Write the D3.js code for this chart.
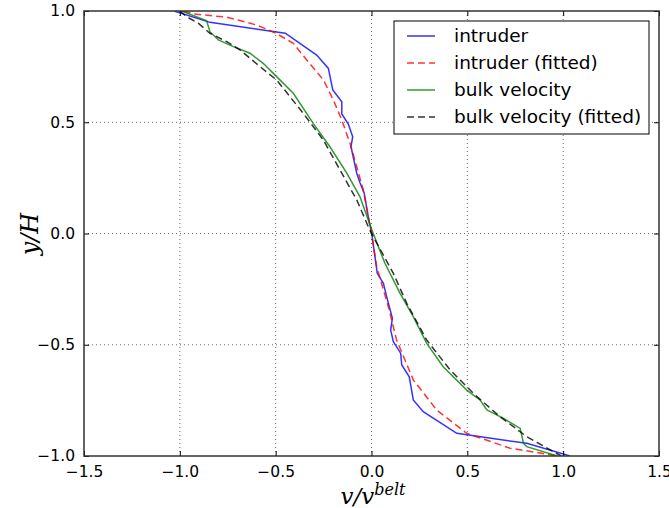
<!DOCTYPE html>
<html><head><meta charset="utf-8">
<script src="https://cdn.jsdelivr.net/npm/d3@7"></script>
<style>body{margin:0;background:#fff;} svg{display:block;}</style>
</head><body>
<svg id="c" width="669" height="508"></svg>
<script>
// ---- data (x = v/v_belt, y = y/H) ----
const seriesNames = ["intruder", "intruder (fitted)", "bulk velocity", "bulk velocity (fitted)"];
const xTicks = [-1.5, -1.0, -0.5, 0.0, 0.5, 1.0, 1.5];
const yTicks = [-1.0, -0.5, 0.0, 0.5, 1.0];

const intruderX = [-1.03,-0.843,-0.450,-0.286,-0.225,-0.202,-0.155,-0.155,-0.121,-0.098,-0.107,-0.077,-0.060,-0.038,-0.017,0.001,0.030,0.062,0.079,0.109,0.100,0.114,0.152,0.158,0.197,0.218,0.270,0.445,0.810,1.036];
const intruderY = [1.0,0.949,0.900,0.802,0.742,0.645,0.592,0.537,0.492,0.435,0.390,0.271,0.228,0.181,0.076,0.001,-0.179,-0.224,-0.284,-0.381,-0.434,-0.486,-0.538,-0.591,-0.644,-0.748,-0.801,-0.898,-0.943,-1.0];

const intruderFitX = [-0.98,-0.930,-0.755,-0.599,-0.503,-0.408,-0.338,-0.251,-0.199,-0.155,-0.112,-0.077,-0.043,-0.017,0.0,0.027,0.088,0.131,0.218,0.340,0.497,0.723,0.975];
const intruderFitY = [1.0,0.987,0.972,0.937,0.902,0.855,0.780,0.690,0.600,0.510,0.405,0.300,0.196,0.076,0.0,-0.149,-0.329,-0.479,-0.658,-0.793,-0.898,-0.965,-1.0];

const bulkX = [-0.99,-0.860,-0.843,-0.799,-0.721,-0.634,-0.565,-0.495,-0.408,-0.304,-0.217,-0.129,-0.060,0.0,0.070,0.149,0.218,0.288,0.374,0.497,0.567,0.602,0.689,0.776,0.793,0.810,0.97];
const bulkY = [1.0,0.956,0.907,0.870,0.840,0.810,0.765,0.705,0.630,0.495,0.390,0.271,0.165,0.02,-0.134,-0.269,-0.374,-0.494,-0.599,-0.704,-0.749,-0.793,-0.831,-0.876,-0.943,-0.958,-1.0];

const bulkFitX = [-1.0,-0.964,-0.904,-0.843,-0.755,-0.686,-0.582,-0.495,-0.356,-0.251,-0.155,-0.077,-0.017,0.0,0.114,0.184,0.288,0.410,0.531,0.670,0.810,0.99];
const bulkFitY = [1.0,0.974,0.945,0.900,0.862,0.825,0.750,0.690,0.540,0.420,0.271,0.151,0.031,0.0,-0.179,-0.314,-0.479,-0.613,-0.718,-0.823,-0.913,-1.0];

// ---- layout ----
const L = 84, R = 659, T = 11, B = 456;
const svg = d3.select("#c");
const x = d3.scaleLinear().domain([-1.5, 1.5]).range([L, R]);
const y = d3.scaleLinear().domain([-1, 1]).range([B, T]);
const fmt = v => d3.format(".1f")(v).replace("-", "\u2212");
const FONT = "DejaVu Sans, sans-serif";

// grid
const g = svg.append("g");
g.selectAll("line.gx").data(xTicks.slice(1, -1)).join("line")
  .attr("x1", d => x(d)).attr("x2", d => x(d)).attr("y1", T).attr("y2", B)
  .attr("stroke", "#000").attr("stroke-width", 0.6).attr("stroke-dasharray", "1,3");
g.selectAll("line.gy").data(yTicks.slice(1, -1)).join("line")
  .attr("y1", d => y(d)).attr("y2", d => y(d)).attr("x1", L).attr("x2", R)
  .attr("stroke", "#000").attr("stroke-width", 0.6).attr("stroke-dasharray", "1,3");

// series
const series = [
  {name: seriesNames[0], xs: intruderX, ys: intruderY, color: "#0000ff", dash: null},
  {name: seriesNames[1], xs: intruderFitX, ys: intruderFitY, color: "#ff0000", dash: "7,4"},
  {name: seriesNames[2], xs: bulkX, ys: bulkY, color: "#008000", dash: null},
  {name: seriesNames[3], xs: bulkFitX, ys: bulkFitY, color: "#000000", dash: "7,4"}
];
const line = d3.line().x(d => x(d[0])).y(d => y(d[1]));
svg.append("defs").append("clipPath").attr("id", "clip").append("rect")
  .attr("x", L).attr("y", T).attr("width", R - L).attr("height", B - T);
const pl = svg.append("g").attr("clip-path", "url(#clip)");
series.forEach(s => {
  pl.append("path").datum(s.xs.map((v, i) => [v, s.ys[i]]))
    .attr("d", line).attr("fill", "none").attr("stroke", s.color)
    .attr("stroke-width", 1.5).attr("stroke-opacity", 0.8)
    .attr("stroke-dasharray", s.dash);
});

// axes (ticks inside, on all sides)
const ax = svg.append("g");
ax.append("g").attr("transform", `translate(0,${B})`)
  .call(d3.axisBottom(x).tickValues(xTicks).tickSizeInner(-5).tickSizeOuter(0).tickPadding(10).tickFormat(fmt));
ax.append("g").attr("transform", `translate(0,${T})`)
  .call(d3.axisTop(x).tickValues(xTicks).tickSizeInner(-5).tickSizeOuter(0).tickFormat(""));
ax.append("g").attr("transform", `translate(${L},0)`)
  .call(d3.axisLeft(y).tickValues(yTicks).tickSizeInner(-5).tickSizeOuter(0).tickPadding(9).tickFormat(fmt));
ax.append("g").attr("transform", `translate(${R},0)`)
  .call(d3.axisRight(y).tickValues(yTicks).tickSizeInner(-5).tickSizeOuter(0).tickFormat(""));
ax.selectAll(".domain").remove();
ax.selectAll(".tick line").attr("stroke", "#000").attr("stroke-width", 1);
ax.selectAll("text").attr("font-family", FONT).attr("font-size", 15.5).attr("fill", "#000");
svg.append("rect").attr("x", L).attr("y", T).attr("width", R - L).attr("height", B - T)
  .attr("fill", "none").attr("stroke", "#333").attr("stroke-width", 1.5);

// axis labels
const xl = svg.append("text").attr("x", 373).attr("y", 504).attr("text-anchor", "middle")
  .attr("font-family", "DejaVu Serif, serif").attr("font-style", "italic").attr("font-size", 23);
xl.append("tspan").text("v/v");
xl.append("tspan").attr("dy", -9).attr("font-size", 16).text("belt");
svg.append("text").attr("transform", "translate(38,234) rotate(-90)").attr("text-anchor", "middle")
  .attr("font-family", "DejaVu Serif, serif").attr("font-style", "italic").attr("font-size", 24)
  .text("y/H");

// legend
const lg = svg.append("g");
lg.append("rect").attr("x", 394).attr("y", 21).attr("width", 255).attr("height", 113)
  .attr("fill", "#fff").attr("stroke", "#000").attr("stroke-width", 1);
series.forEach((s, i) => {
  const cy = 36 + i * 27;
  lg.append("line").attr("x1", 407).attr("x2", 435).attr("y1", cy).attr("y2", cy)
    .attr("stroke", s.color).attr("stroke-width", 1.5).attr("stroke-opacity", 0.8)
    .attr("stroke-dasharray", s.dash);
  lg.append("text").attr("x", 454).attr("y", cy + 6).attr("font-family", FONT)
    .attr("font-size", 18.5).attr("fill", "#000").text(s.name);
});
</script>
</body></html>
